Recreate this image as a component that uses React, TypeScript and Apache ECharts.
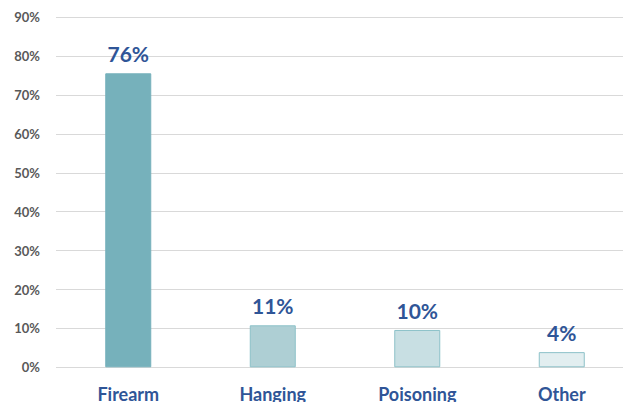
import React, { useEffect, useRef } from "react";
import * as echarts from "echarts";

const categories = ["Firearm", "Hanging", "Poisoning", "Other"];
const values = [75.6, 10.8, 9.6, 3.9];
const labels = ["76%", "11%", "10%", "4%"];
const yTicks = [0, 10, 20, 30, 40, 50, 60, 70, 80, 90];

const fills = ["#76B1BB", "#AECFD4", "#C8DFE3", "#E2EEF0"];
const borders = ["#76B1BB", "#8CC1C8", "#8CC1C8", "#8CC1C8"];

export default function App() {
  const ref = useRef<HTMLDivElement>(null);
  useEffect(() => {
    if (!ref.current) return;
    const chart = echarts.init(ref.current, undefined, { renderer: "svg" });
    chart.setOption({
      animation: false,
      grid: {
        left: 56,
        top: 17.3,
        bottom: 34.7,
        right: 0,
        containLabel: false,
        outerBoundsMode: "none",
      },
      xAxis: {
        type: "category",
        data: categories,
        axisLine: { show: false },
        axisTick: { show: false },
        axisLabel: {
          margin: 18,
          color: "#2F5597",
          fontFamily: "Lato",
          fontWeight: "bold",
          fontSize: 18,
        },
      },
      yAxis: {
        type: "value",
        min: yTicks[0],
        max: yTicks[yTicks.length - 1],
        interval: 10,
        axisLine: { show: false },
        axisTick: { show: false },
        axisLabel: {
          margin: 16,
          formatter: "{value}%",
          color: "#595959",
          fontFamily: "Lato",
          fontWeight: "bold",
          fontSize: 13,
        },
        splitLine: { lineStyle: { color: "#D9D9D9", width: 1 } },
      },
      series: [
        {
          type: "bar",
          barWidth: 46,
          data: values.map((v, i) => ({
            value: v,
            itemStyle: { color: fills[i], borderColor: borders[i], borderWidth: 1 },
            label: { formatter: labels[i] },
          })),
          label: {
            show: true,
            position: "top",
            distance: 9,
            color: "#2F5597",
            fontFamily: "Lato",
            fontWeight: "bold",
            fontSize: 21,
          },
        },
      ],
    });
    return () => chart.dispose();
  }, []);
  return (
    <div
      ref={ref}
      style={{ position: "fixed", left: 0, top: 0, width: 634, height: 402, background: "#fff" }}
    />
  );
}
